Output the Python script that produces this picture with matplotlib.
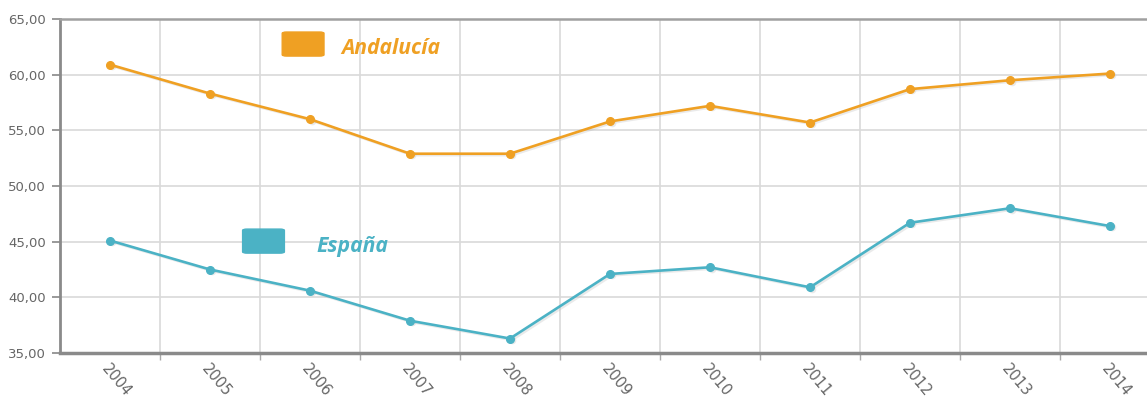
import matplotlib
matplotlib.use('Agg')
import matplotlib.pyplot as plt
from matplotlib.patches import FancyBboxPatch
from matplotlib.ticker import FixedLocator, FuncFormatter

years = ['2004', '2005', '2006', '2007', '2008', '2009', '2010',
         '2011', '2012', '2013', '2014']
andalucia = [60.9, 58.3, 56.0, 52.9, 52.9, 55.8, 57.2, 55.7, 58.7, 59.5, 60.1]
espana = [45.1, 42.5, 40.6, 37.9, 36.3, 42.1, 42.7, 40.9, 46.7, 48.0, 46.4]

ORANGE = '#EFA023'
TEAL = '#4BB2C5'
GRAY = '#666666'

fig = plt.figure(figsize=(11.47, 4.05), dpi=100)
ax = fig.add_axes([60 / 1147, 52 / 405, 1100 / 1147, 334 / 405])

x = list(range(len(years)))
for vals, col in [(andalucia, ORANGE), (espana, TEAL)]:
    # soft shadow under the line
    ax.plot([i + 0.02 for i in x], [v - 0.12 for v in vals], color='#bbbbbb',
            lw=2, alpha=0.3, zorder=2, marker='o', ms=5.5, mec='none')
    ax.plot(x, vals, color=col, lw=1.9, marker='o', ms=5.5, mec=col,
            zorder=3)

ax.set_xlim(-0.5, len(years) - 0.5)
ax.set_ylim(35, 65)
ax.set_yticks([35, 40, 45, 50, 55, 60, 65])
ax.yaxis.set_major_formatter(FuncFormatter(lambda v, _: f'{v:.2f}'.replace('.', ',')))
ax.set_xticks(x)
ax.set_xticklabels(years, rotation=-50, ha='left', va='top',
                   rotation_mode='anchor')
ax.xaxis.set_minor_locator(FixedLocator([i + 0.5 for i in x]))

ax.tick_params(axis='x', which='major', length=0, pad=6, labelsize=10.5,
               labelcolor=GRAY)
ax.tick_params(axis='x', which='minor', length=5, color='#aaaaaa', width=1)
ax.tick_params(axis='y', length=6, color='#888888', width=1.2, pad=4,
               labelsize=9.5, labelcolor=GRAY)

ax.grid(axis='y', which='major', color='#d9d9d9', lw=1.2)
ax.grid(axis='x', which='minor', color='#d9d9d9', lw=1.2)
ax.set_axisbelow(True)

for side in ['left', 'bottom', 'top']:
    ax.spines[side].set_color('#8a8a8a')
ax.spines['left'].set_linewidth(2)
ax.spines['bottom'].set_linewidth(2.5)
ax.spines['top'].set_linewidth(1.8)
ax.spines['top'].set_color('#a0a0a0')
ax.spines['right'].set_visible(False)

# legend labels placed inside the plot
legend = [('Andalucía', ORANGE, 0.202, 0.889, 0.2555, 0.913),
          ('España', TEAL, 0.166, 0.299, 0.2327, 0.318)]
for name, col, bx, by, tx, ty in legend:
    ax.add_patch(FancyBboxPatch((bx, by), 0.038, 0.072,
                                boxstyle='round,pad=0,rounding_size=0.004',
                                transform=ax.transAxes, color=col, zorder=4,
                                clip_on=False))
    ax.text(tx, ty, name, transform=ax.transAxes, color=col, fontsize=15.2,
            fontweight='bold', fontstyle='italic', family='Open Sans',
            va='center', ha='left', zorder=4)

fig.savefig('out.png', dpi=100)
